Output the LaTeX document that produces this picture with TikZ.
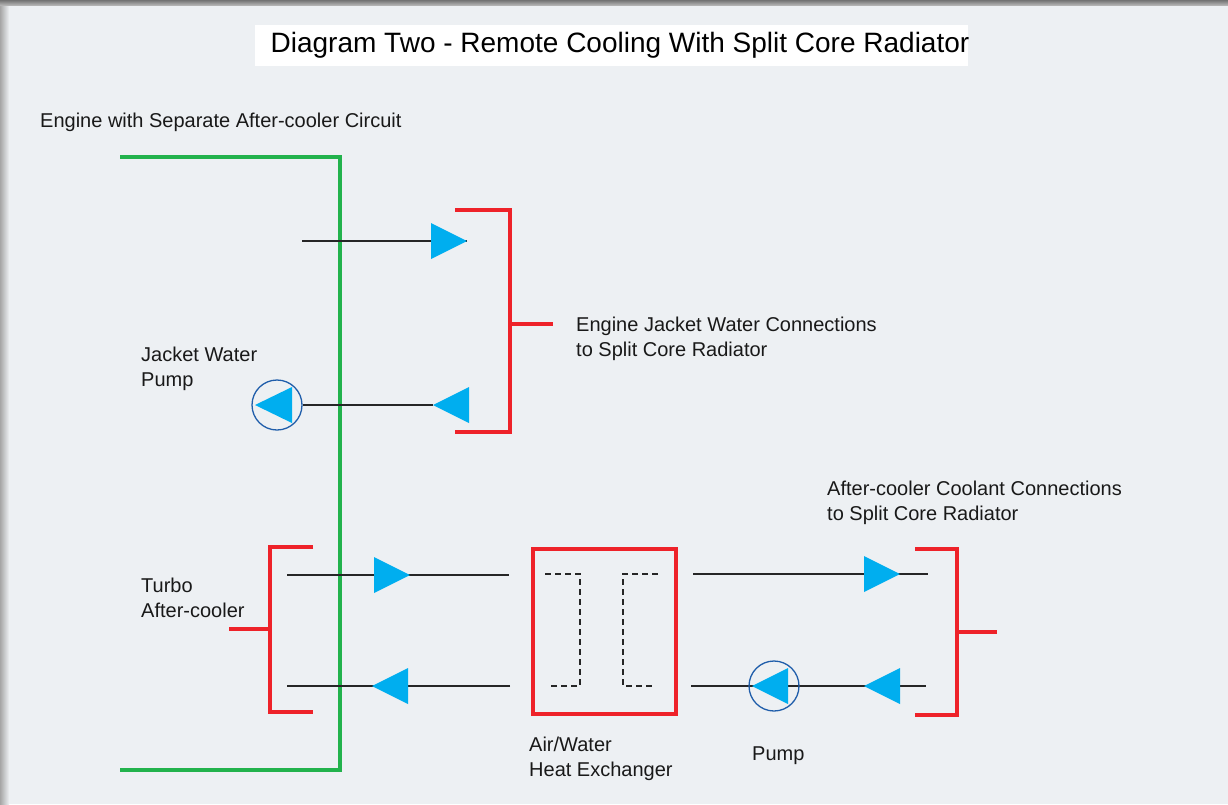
\documentclass[tikz,border=0pt]{standalone}
\usepackage{fontspec}
\setmainfont{Liberation Sans}
\definecolor{bg}{HTML}{EDF0F3}
\definecolor{gline}{HTML}{22B24C}
\definecolor{rline}{HTML}{EE2229}
\definecolor{cyanA}{HTML}{00AEEF}
\definecolor{pblue}{HTML}{1F5DAA}
\tikzset{
  pipe/.style={draw=black!85, line width=1.1pt},
  redb/.style={draw=rline, line width=4pt},
  grn/.style={draw=gline, line width=4pt},
  dsh/.style={draw=black!85, line width=1.2pt, dash pattern=on 6pt off 4pt},
  lbl/.style={font=\fontsize{20}{24.5}\selectfont, align=left, inner sep=0pt, anchor=west, text=black!90},
  pumpc/.style={circle, draw=pblue, line width=1.3pt, minimum size=50pt, inner sep=0pt},
  pics/arrR/.style={code={\fill[cyanA] (-36,-18) -- (0,0) -- (-36,18) -- cycle;}},
  pics/arrL/.style={code={\fill[cyanA] (36,-18) -- (0,0) -- (36,18) -- cycle;}},
}
\begin{document}
\begin{tikzpicture}[x=1pt,y=-1pt]
\useasboundingbox (0,0) rectangle (1228,804);
\fill[bg] (0,0) rectangle (1228,804);
\shade[left color=black!35, right color=bg] (0,0) rectangle (9,804);
\shade[top color=black!55, bottom color=black!30] (0,0) rectangle (1228,5);
% title
\fill[white] (255,25) rectangle (968,66);
\node[font=\fontsize{28}{32}\selectfont, inner sep=0pt] (title) at (620,45) {Diagram Two - Remote Cooling With Split Core Radiator};
\node[lbl, anchor=base west] (eng) at (40,127) {Engine with Separate After-cooler Circuit};
% green engine outline
\coordinate (g1) at (120,157); \coordinate (g2) at (340,157);
\coordinate (g3) at (340,770); \coordinate (g4) at (120,770);
\draw[grn] (g1) -- (g2) -- (g3) -- (g4);
% jacket water circuit
\coordinate (jw1s) at (302,241); \coordinate (jw1e) at (467,241);
\draw[pipe] (jw1s) -- (jw1e);
\pic at (jw1e) {arrR};
\node[pumpc] (pumpA) at (277,405) {};
\fill[cyanA] (255,405) -- (292,387) -- (292,423) -- cycle;
\coordinate (jw2e) at (433,405);
\draw[pipe] (pumpA.east) -- (jw2e);
\pic at (jw2e) {arrL};
\coordinate (rb1a) at (455,210); \coordinate (rb1b) at (510,210);
\coordinate (rb1c) at (510,432); \coordinate (rb1d) at (455,432);
\coordinate (rb1m) at (510,324); \coordinate (rb1s) at (553,324);
\draw[redb] (rb1a) -- (rb1b) -- (rb1c) -- (rb1d);
\draw[redb] (rb1m) -- (rb1s);
\node[lbl] (jwp) at (141,369) {Jacket Water\\Pump};
\node[lbl] (ejw) at (576,339) {Engine Jacket Water Connections\\to Split Core Radiator};
% turbo after-cooler
\coordinate (ta) at (313,547); \coordinate (tb) at (270,547);
\coordinate (tc) at (270,712); \coordinate (td) at (313,712);
\coordinate (tm) at (270,629); \coordinate (ts) at (229,629);
\draw[redb] (ta) -- (tb) -- (tc) -- (td);
\draw[redb] (tm) -- (ts);
\node[lbl] (turbo) at (141,598) {Turbo\\After-cooler};
% heat exchanger
\node[draw=rline, line width=4pt, minimum width=143pt, minimum height=165pt, inner sep=0pt] (hx) at (604.5,631.5) {};
\draw[dsh] (545,574) -- (580,574) -- (580,686) -- (548,686);
\draw[dsh] (658,574) -- (623,574) -- (623,686) -- (655,686);
\node[lbl] (hxl) at (529,759) {Air/Water\\Heat Exchanger};
% pipes turbo <-> hx
\coordinate (p1s) at (287,575); \coordinate (p1e) at (509,575);
\draw[pipe] (p1s) -- (p1e);
\pic at (410,575) {arrR};
\coordinate (p2s) at (287,686); \coordinate (p2e) at (510,686);
\draw[pipe] (p2e) -- (p2s);
\pic at (372,686) {arrL};
% pipes hx <-> radiator
\coordinate (p3s) at (693,574); \coordinate (p3e) at (928,574);
\draw[pipe] (p3s) -- (p3e);
\pic at (900,574) {arrR};
\coordinate (p4s) at (691,686); \coordinate (p4e) at (926,686);
\draw[pipe] (p4s) -- (p4e);
\node[pumpc] (pumpB) at (774,686) {};
\fill[cyanA] (752,686) -- (788,668) -- (788,704) -- cycle;
\pic at (864,686) {arrL};
\coordinate (ra) at (915,549); \coordinate (rb) at (957,549);
\coordinate (rc) at (957,715); \coordinate (rd) at (915,715);
\coordinate (rm) at (957,632); \coordinate (rs) at (997,632);
\draw[redb] (ra) -- (rb) -- (rc) -- (rd);
\draw[redb] (rm) -- (rs);
\node[lbl] (acc) at (827,503) {After-cooler Coolant Connections\\to Split Core Radiator};
\node[lbl, anchor=base west] (pumpl) at (752,760) {Pump};
\end{tikzpicture}
\end{document}
